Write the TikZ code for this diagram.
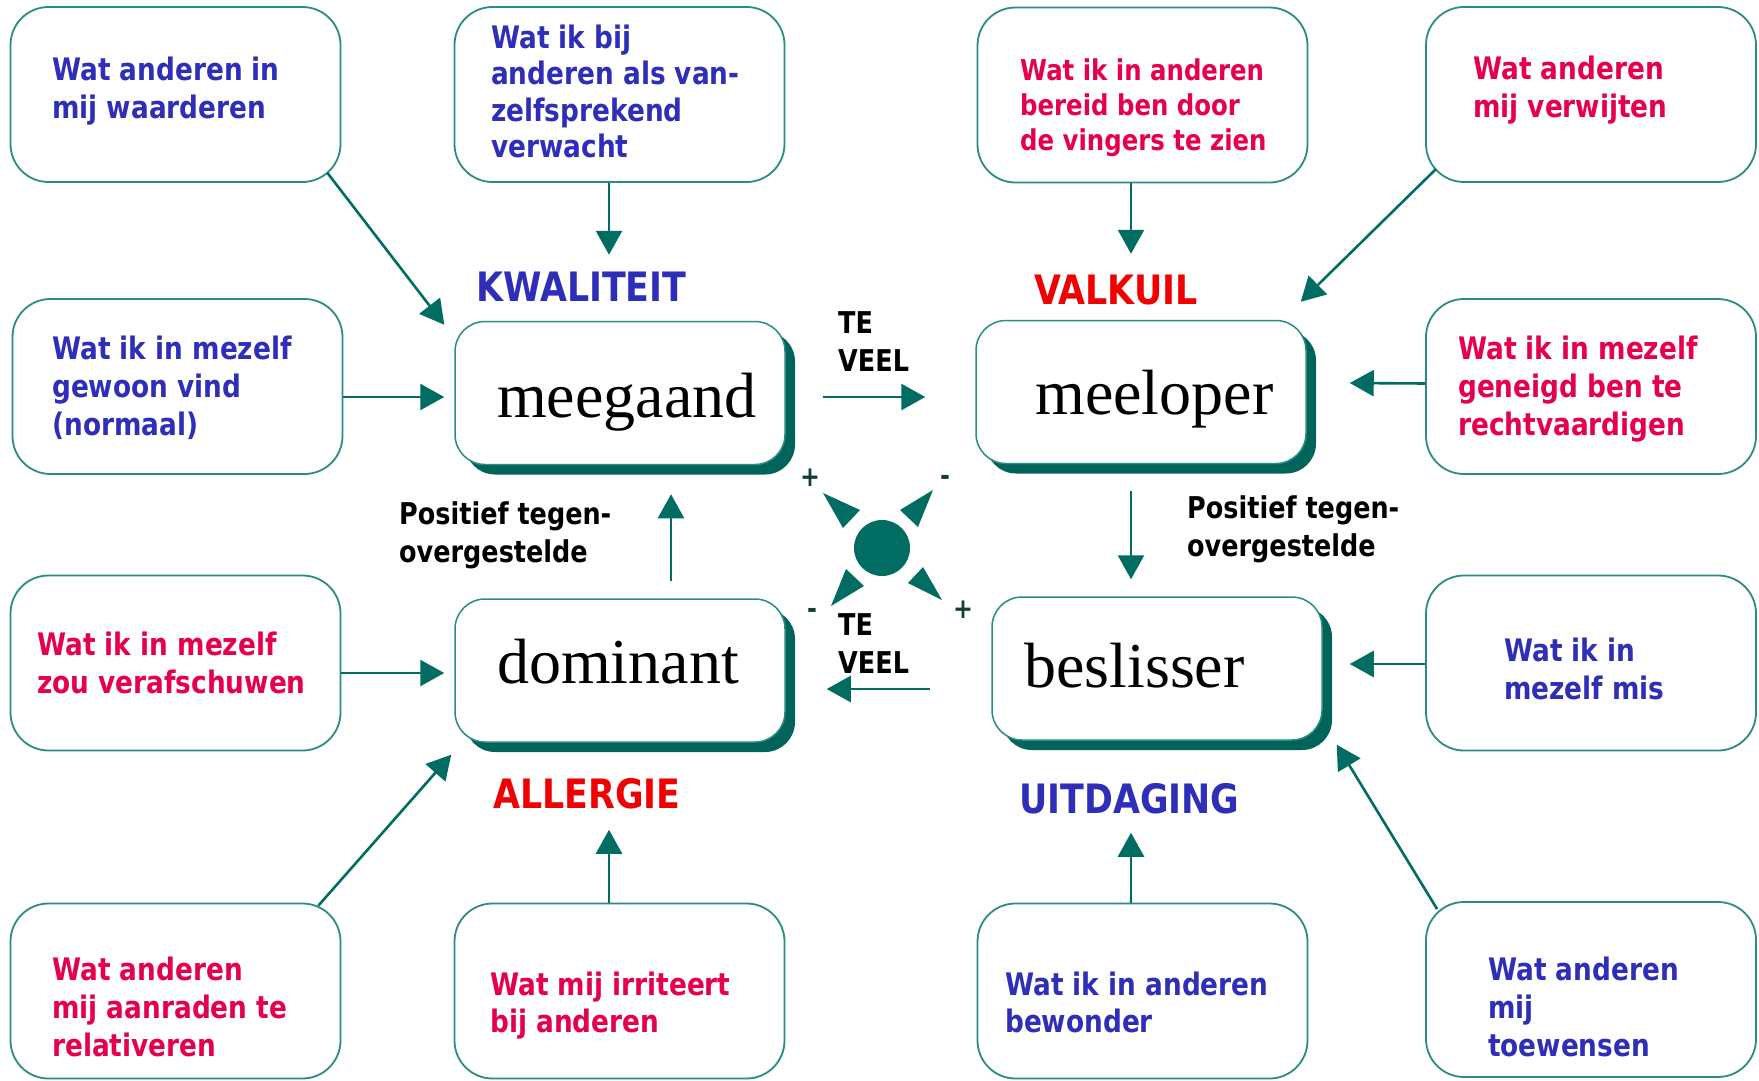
\documentclass[tikz,border=0pt]{standalone}
\usepackage{fontspec}
\newfontfamily\boxfont[FakeStretch=0.85]{DejaVu Sans Bold}
\newfontfamily\lblfont[FakeStretch=0.86]{DejaVu Sans Bold}
\newfontfamily\serifword{Liberation Serif}
\usetikzlibrary{arrows.meta,calc,shadows}
\definecolor{boxteal}{RGB}{42,140,130}
\definecolor{arrteal}{RGB}{0,108,98}
\definecolor{shadteal}{RGB}{0,100,90}
\definecolor{txtblue}{RGB}{46,46,184}
\definecolor{txtred}{RGB}{230,0,76}
\definecolor{lblred}{RGB}{240,0,0}
\definecolor{signdark}{RGB}{20,60,55}
\tikzset{
  outerbox/.style={draw=boxteal, line width=1.8pt, rounded corners=38pt, fill=white,
    minimum width=330pt, minimum height=175pt, inner sep=0pt},
  mainbox/.style={draw=boxteal, line width=1.5pt, rounded corners=30pt, fill=white,
    minimum width=330pt, minimum height=143pt, inner sep=0pt,
    drop shadow={shadow xshift=10pt, shadow yshift=-10pt, fill=shadteal, opacity=1}},
  arr/.style={draw=arrteal, line width=2.6pt, -{Triangle[length=24pt,width=26pt]}},
  btext/.style={anchor=north west, inner sep=0pt, align=left},
  bt38/.style={btext, font=\boxfont\fontsize{31}{38}\selectfont},
  bt37/.style={btext, font=\boxfont\fontsize{31}{37}\selectfont},
  bt36/.style={btext, font=\boxfont\fontsize{31}{36.5}\selectfont},
  bt35/.style={btext, font=\boxfont\fontsize{28.7}{35}\selectfont},
  bigword/.style={anchor=base west, inner sep=0pt, font=\serifword\fontsize{64}{70}\selectfont},
  biglabel/.style={anchor=base west, inner sep=0pt, font=\lblfont\fontsize{40.5}{44}\selectfont},
  sidetext/.style={anchor=north west, inner sep=0pt, align=left, text=black},
  sign/.style={inner sep=0pt, text=signdark, font=\boxfont\fontsize{28}{28}\selectfont}
}
\begin{document}
\begin{tikzpicture}[x=1pt,y=-1pt]
\fill[white] (0,0) rectangle (1759,1081);
\useasboundingbox (0,0) rectangle (1759,1081);

% outer boxes
\node[outerbox] (tl1) at (175.5,94.5) {};
\node[outerbox] (tcl) at (619.5,94.5) {};
\node[outerbox] (tcr) at (1142.5,95) {};
\node[outerbox] (tr1) at (1591,94.5) {};
\node[outerbox] (tl2) at (177.5,386.5) {};
\node[outerbox] (tr2) at (1591,386.5) {};
\node[outerbox] (ml) at (175.5,663) {};
\node[outerbox] (mr) at (1591,663) {};
\node[outerbox] (bl) at (175.5,991) {};
\node[outerbox] (bcl) at (619.5,991) {};
\node[outerbox] (bcr) at (1142.5,991) {};
\node[outerbox] (br) at (1591,989.5) {};

% main boxes
\node[mainbox] (meeg) at (620,393) {};
\node[mainbox] (meel) at (1141,392) {};
\node[mainbox] (dom) at (620,670.5) {};
\node[mainbox] (besl) at (1157,668.5) {};

\node[bigword] (wmeeg) at (497,417) {meegaand};
\node[bigword] (wmeel) at (1035,414) {meeloper};
\node[bigword] (wdom) at (497,683) {dominant};
\node[bigword] (wbesl) at (1024,687) {beslisser};

% box texts
\node[bt38, text=txtblue] (ttl1) at (52,53.4) {\strut Wat anderen in\\mij waarderen};
\node[bt36, text=txtblue] (ttcl) at (491,22.5) {\strut Wat ik bij\\anderen als van-\\zelfsprekend\\verwacht};
\node[bt35, text=txtred] (ttcr) at (1020,55.5) {\strut Wat ik in anderen\\bereid ben door\\de vingers te zien};
\node[bt38, text=txtred] (ttr1) at (1473,52.4) {\strut Wat anderen\\mij verwijten};
\node[bt38, text=txtblue] (ttl2) at (52,333) {\strut Wat ik in mezelf\\gewoon vind\\(normaal)};
\node[bt38, text=txtred] (ttr2) at (1458,333) {\strut Wat ik in mezelf\\geneigd ben te\\rechtvaardigen};
\node[bt38, text=txtred] (tml) at (37,628.5) {\strut Wat ik in mezelf\\zou verafschuwen};
\node[bt38, text=txtblue] (tmr) at (1504,635) {\strut Wat ik in\\mezelf mis};
\node[bt38, text=txtred] (tbl) at (52,953.6) {\strut Wat anderen\\mij aanraden te\\relativeren};
\node[bt37, text=txtred] (tbcl) at (490,969.2) {\strut Wat mij irriteert\\bij anderen};
\node[bt37, text=txtblue] (tbcr) at (1005,969.2) {\strut Wat ik in anderen\\bewonder};
\node[bt38, text=txtblue] (tbr) at (1488,953.6) {\strut Wat anderen\\mij\\toewensen};

% big labels
\node[biglabel, text=txtblue] (kwal) at (476,301) {KWALITEIT};
\node[biglabel, text=lblred] (valk) at (1034,304) {VALKUIL};
\node[biglabel, text=lblred] (allg) at (493,808) {ALLERGIE};
\node[biglabel, text=txtblue] (uitd) at (1019,813) {UITDAGING};

% side texts
\node[sidetext, font=\boxfont\fontsize{30}{38.5}\selectfont] (tv1) at (838,306) {\strut TE\\VEEL};
\node[sidetext, font=\boxfont\fontsize{30}{38.5}\selectfont] (tv2) at (838,608) {\strut TE\\VEEL};
\node[sidetext, font=\boxfont\fontsize{30}{38}\selectfont] (pos1) at (399,497.8) {\strut Positief tegen-\\overgestelde};
\node[sidetext, font=\boxfont\fontsize{30}{38}\selectfont] (pos2) at (1187,492) {\strut Positief tegen-\\overgestelde};

% centre symbol
\node[circle, fill=arrteal, minimum size=56pt, inner sep=0pt] (sun) at (882,548) {};
\fill[arrteal] ($(sun)+(-59,-55)$) -- ($(sun)+(-22,-38)$) -- ($(sun)+(-39,-20)$) -- cycle;
\fill[arrteal] ($(sun)+(51,-58)$) -- ($(sun)+(18,-38)$) -- ($(sun)+(36,-21)$) -- cycle;
\fill[arrteal] ($(sun)+(60,52)$) -- ($(sun)+(26,35)$) -- ($(sun)+(41,19)$) -- cycle;
\fill[arrteal] ($(sun)+(-51,58)$) -- ($(sun)+(-18,38)$) -- ($(sun)+(-36,21)$) -- cycle;
\node[sign] (p1) at (810,478) {+};
\node[sign] (m1) at (945,480) {-};
\node[sign] (m2) at (812,613) {-};
\node[sign] (p2) at (963,610) {+};

% arrows
\draw[arr] ($(tl1.south east)+(-14,-10)$) -- ($(meeg.north west)+(-10,4)$);
\draw[arr] ($(tcl.south)+(-10.5,0)$) -- ($(meeg.north)+(-11,-66)$);
\draw[arr] ($(tl2.east)+(0,10.5)$) -- ($(meeg.west)+(-10,4)$);
\draw[arr] ($(meeg.east)+(37,4)$) -- ($(meel.west)+(-50,5)$);
\draw[arr] ($(tcr.south)+(-11.5,0)$) -- ($(meel.north)+(-10,-66)$);
\draw[arr] ($(tr1.south west)+(11,-14)$) -- ($(meel.north east)+(-6,-18)$);
\draw[arr] ($(tr2.west)+(0,-3)$) -- ($(meel.east)+(43,-9)$);
\draw[arr] ($(meel.south)+(-10,27)$) -- ($(besl.north)+(-26,-17)$);
\draw[arr] ($(mr.west)+(0,1)$) -- ($(besl.east)+(27,-4.5)$);
\draw[arr] ($(br.north west)+(12,8)$) -- ($(besl.south east)+(14,4)$);
\draw[arr] ($(bcr.north)+(-11.5,0)$) -- ($(besl.south)+(-26,92)$);
\draw[arr] ($(besl.west)+(-61,20.5)$) -- ($(dom.east)+(41,18.5)$);
\draw[arr] ($(dom.north)+(51,-17)$) -- ($(meeg.south)+(51,29)$);
\draw[arr] ($(ml.east)+(0,10)$) -- ($(dom.west)+(-10,2.5)$);
\draw[arr] ($(bl.north east)+(-23,3)$) -- ($(dom.south west)+(-3,12)$);
\draw[arr] ($(bcl.north)+(-10.5,0)$) -- ($(dom.south)+(-11,87)$);
\end{tikzpicture}
\end{document}
